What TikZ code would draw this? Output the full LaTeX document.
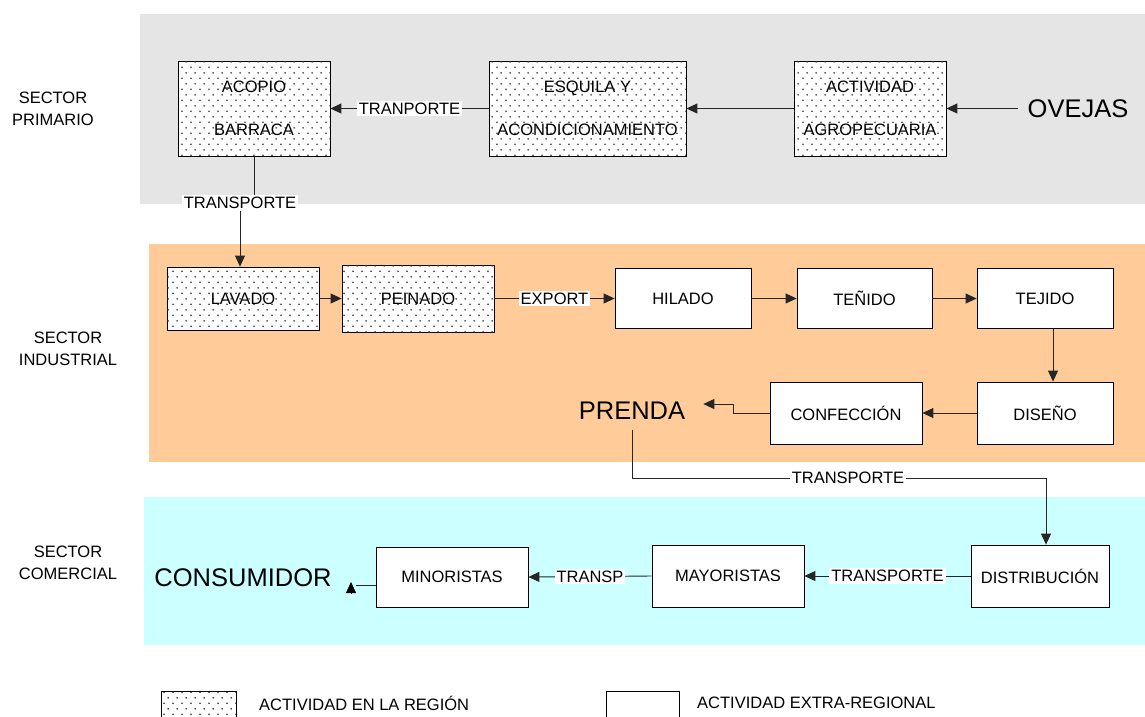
\documentclass[tikz,border=0pt]{standalone}
\usepackage{fontspec}
\setmainfont{Liberation Sans}
\usetikzlibrary{arrows.meta,patterns}

\pgfdeclarepatternformonly{sdots}{\pgfqpoint{0pt}{0pt}}{\pgfqpoint{9pt}{11.4pt}}{\pgfqpoint{9pt}{11.4pt}}{%
  \pgfpathcircle{\pgfqpoint{2.25pt}{2.85pt}}{1pt}%
  \pgfpathcircle{\pgfqpoint{6.75pt}{8.55pt}}{1pt}%
  \pgfusepath{fill}}

\definecolor{bandgray}{HTML}{E5E5E5}
\definecolor{bandorange}{HTML}{FFCC99}
\definecolor{bandcyan}{HTML}{CCFFFF}

\newcommand{\fsm}{\fontsize{16.5}{20}\selectfont}
\newcommand{\ftall}{\fontsize{16.5}{43}\selectfont}
\newcommand{\fsec}{\fontsize{16.5}{22}\selectfont}
\newcommand{\fbig}{\fontsize{25.5}{30}\selectfont}

\tikzset{
  box/.style={draw=black, line width=0.8pt, fill=white, inner sep=0pt, font=\fsm, align=center},
  regbox/.style={box, postaction={pattern=sdots, pattern color=black!80}},
  sz/.style 2 args={minimum width=#1, minimum height=#2},
  conn/.style={draw=black!85, line width=0.9pt, -{Triangle[length=11pt,width=10pt]}},
  plain/.style={draw=black!85, line width=0.9pt},
  lab/.style={fill=white, inner sep=2pt, font=\fsm},
  big/.style={font=\fbig, inner sep=2pt},
  sect/.style={font=\fsec, align=center},
  legtext/.style={font=\fsm, anchor=west, inner sep=0pt},
}

\begin{document}
\begin{tikzpicture}[x=1pt,y=-1pt]
\useasboundingbox (0,0) rectangle (1145,716);

% bands
\fill[bandgray] (140,14) rectangle (1145,204);
\fill[bandorange] (149,244) rectangle (1145,462);
\fill[bandcyan] (144,497) rectangle (1145,645);

% sector labels
\node[sect] (sp) at (53,109) {SECTOR\\PRIMARIO};
\node[sect] (si) at (68,349) {SECTOR\\INDUSTRIAL};
\node[sect] (sc) at (68,563) {SECTOR\\COMERCIAL};

% primary sector
\node[regbox, sz={152}{95}, font=\ftall] (acopio) at (254,108.5) {ACOPIO\\BARRACA};
\node[regbox, sz={197}{95}, font=\ftall] (esquila) at (587.5,108.5) {ESQUILA Y\\ACONDICIONAMIENTO};
\node[regbox, sz={152}{95}, font=\ftall] (activ) at (870,108.5) {ACTIVIDAD\\AGROPECUARIA};
\node[big, inner sep=10pt] (ovejas) at (1078,108.5) {OVEJAS};

\draw[conn] (ovejas.west) -- (activ.east);
\draw[conn] (activ.west) -- (esquila.east);
\draw[conn] (esquila.west) -- node[lab] {TRANPORTE} (acopio.east);

% industrial sector
\node[regbox, sz={152}{63}] (lavado) at (243,298.5) {LAVADO};
\node[regbox, sz={152}{67}] (peinado) at (418,298.5) {PEINADO};
\node[box, sz={136}{60}] (hilado) at (683,298.5) {HILADO};
\node[box, sz={135}{60}] (tenido) at (864.5,298.5) {TEÑIDO};
\node[box, sz={136}{60}] (tejido) at (1045,298.5) {TEJIDO};
\node[box, sz={136}{62}] (diseno) at (1045,413) {DISEÑO};
\node[box, sz={152}{62}] (confec) at (846,413) {CONFECCIÓN};
\node[big, inner sep=4pt] (prenda) at (632,411) {PRENDA};

\coordinate (t1) at (240,203);
\draw[conn] (acopio.south) |- (t1) -- (t1 |- lavado.north);
\node[lab] (tr1) at (t1) {TRANSPORTE};

\draw[conn] (lavado.east) -- (peinado.west);
\draw[conn] (peinado.east) -- node[lab] {EXPORT} (hilado.west);
\draw[conn] (hilado.east) -- (tenido.west);
\draw[conn] (tenido.east) -- (tejido.west);
\draw[conn] ([xshift=8pt]tejido.south) -- ([xshift=8pt]diseno.north);
\draw[conn] (diseno.west) -- (confec.east);
\draw[conn] (confec.west) -- ++(-36,0) |- ([xshift=14pt,yshift=7pt]prenda.east);

% commercial sector
\node[box, sz={138}{62}] (distrib) at (1040,576) {DISTRIBUCIÓN};
\node[box, sz={152}{62}] (mayor) at (728,576) {MAYORISTAS};
\node[box, sz={152}{60}] (minor) at (452,577) {MINORISTAS};
\node[big] (cons) at (243,578) {CONSUMIDOR};

\coordinate (t2) at (848,478);
\draw[conn] ([yshift=-6pt]prenda.south) |- (t2) -| ([xshift=6pt]distrib.north);
\node[lab] (tr2) at (t2) {TRANSPORTE};

\draw[conn] (distrib.west) -- node[lab] {TRANSPORTE} (mayor.east);
\draw[conn] (mayor.west) -- node[lab] {TRANSP} (minor.east);

\coordinate (cend) at (356,585);
\coordinate (ctip) at (351,582);
\draw[plain] (minor.west |- cend) -- (cend);
\draw[-{Triangle[length=11pt,width=10pt]}, black] (351,593) -- (ctip);

% legend
\node[regbox, sz={75}{32}] (leg1) at (198.5,707) {};
\node[legtext] (leg1t) at (259,703) {ACTIVIDAD EN LA REGIÓN};
\node[box, sz={73}{32}] (leg2) at (642.5,707) {};
\node[legtext] (leg2t) at (697,703) {ACTIVIDAD EXTRA-REGIONAL};
\end{tikzpicture}
\end{document}
